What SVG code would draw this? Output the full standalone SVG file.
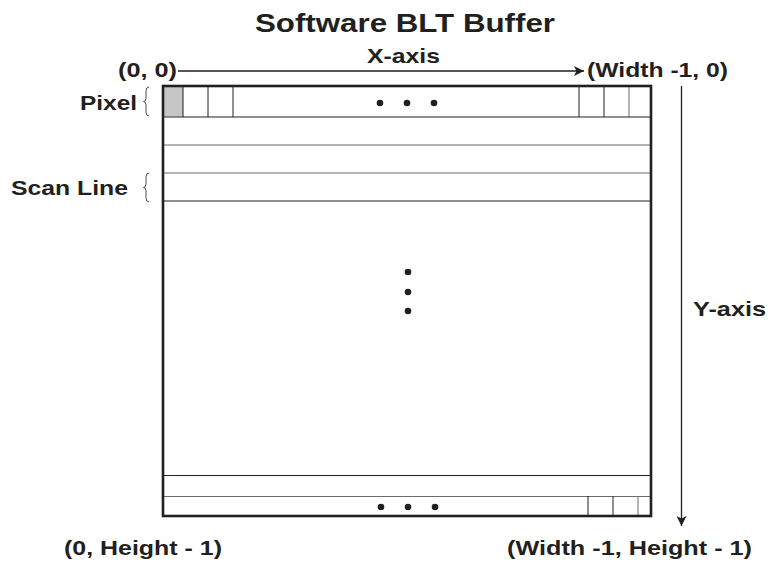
<svg xmlns="http://www.w3.org/2000/svg" width="770" height="565" viewBox="0 0 770 565">
  <style>
    text { font-family: "Liberation Sans", Arial, sans-serif; font-weight: bold; fill: #231f20; }
    .lbl { font-size: 21px; }
    .title { font-size: 26px; }
    .cell { stroke: #231f20; stroke-width: 1; fill: none; }
    .gcell { stroke: #6d6d6d; stroke-width: 1; fill: none; }
    .brace { stroke: #231f20; stroke-width: 0.8; fill: none; }
    .axis { stroke: #231f20; stroke-width: 1.3; fill: none; }
    .dot { fill: #231f20; }
  </style>
  <defs>
    <marker id="ah" viewBox="0 0 10 10" refX="10" refY="5" markerWidth="10" markerHeight="10" markerUnits="userSpaceOnUse" orient="auto">
      <path d="M0,0 L10,5 L0,10 L2.5,5 Z" fill="#231f20"/>
    </marker>
  </defs>

  <g id="title">
    <text class="title" x="255" y="32" textLength="300" lengthAdjust="spacingAndGlyphs">Software BLT Buffer</text>
  </g>

  <g id="buffer">
    <rect x="163" y="86" width="488" height="430" fill="#ffffff" stroke="none"/>
    <rect x="163.5" y="87" width="19.5" height="29.5" fill="#c6c6c6"/>
    <line class="cell" x1="183" y1="86" x2="183" y2="117"/>
    <line class="cell" x1="208" y1="86" x2="208" y2="117"/>
    <line class="cell" x1="233" y1="86" x2="233" y2="117"/>
    <line class="cell" x1="579" y1="86" x2="579" y2="117"/>
    <line class="cell" x1="604" y1="86" x2="604" y2="117"/>
    <line class="gcell" x1="629" y1="86" x2="629" y2="117"/>
    <line class="cell" x1="162" y1="117" x2="651" y2="117"/>
    <line class="gcell" x1="162" y1="145" x2="651" y2="145"/>
    <line class="gcell" x1="162" y1="173" x2="651" y2="173"/>
    <line class="cell" x1="162" y1="201" x2="651" y2="201"/>
    <line class="cell" x1="162" y1="475.5" x2="651" y2="475.5"/>
    <line class="gcell" x1="162" y1="496.5" x2="651" y2="496.5"/>
    <line class="cell" x1="588" y1="496" x2="588" y2="516"/>
    <line class="cell" x1="613" y1="496" x2="613" y2="516"/>
    <line class="gcell" x1="638" y1="496" x2="638" y2="516"/>
    <rect x="163" y="86" width="488" height="430" fill="none" stroke="#231f20" stroke-width="2.6"/>
    <circle class="dot" cx="380" cy="103" r="3.3"/>
    <circle class="dot" cx="407" cy="103" r="3.3"/>
    <circle class="dot" cx="434" cy="103" r="3.3"/>
    <circle class="dot" cx="408" cy="272" r="3.3"/>
    <circle class="dot" cx="408" cy="292" r="3.3"/>
    <circle class="dot" cx="408" cy="311" r="3.3"/>
    <circle class="dot" cx="381" cy="507" r="3.3"/>
    <circle class="dot" cx="408" cy="507" r="3.3"/>
    <circle class="dot" cx="435" cy="507" r="3.3"/>
  </g>

  <g id="pixel-label">
    <text class="lbl" x="80" y="110" textLength="57" lengthAdjust="spacingAndGlyphs">Pixel</text>
    <path class="brace" d="M149,87 Q146,87 146,91 L146,98 Q146,101.5 143.5,101.5 Q146,101.5 146,105 L146,112 Q146,116 149,116"/>
  </g>

  <g id="scanline-label">
    <text class="lbl" x="11" y="195" textLength="117" lengthAdjust="spacingAndGlyphs">Scan Line</text>
    <path class="brace" d="M149,173 Q146,173 146,177 L146,184 Q146,187.5 143.5,187.5 Q146,187.5 146,191 L146,198 Q146,202 149,202"/>
  </g>

  <g id="corner-labels">
    <text class="lbl" x="118" y="77" textLength="59" lengthAdjust="spacingAndGlyphs">(0, 0)</text>
    <text class="lbl" x="587" y="77" textLength="141" lengthAdjust="spacingAndGlyphs">(Width -1, 0)</text>
    <text class="lbl" x="64" y="555" textLength="158" lengthAdjust="spacingAndGlyphs">(0, Height - 1)</text>
    <text class="lbl" x="507" y="555" textLength="245" lengthAdjust="spacingAndGlyphs">(Width -1, Height - 1)</text>
  </g>

  <g id="axis-labels">
    <text class="lbl" x="367" y="63" textLength="73" lengthAdjust="spacingAndGlyphs">X-axis</text>
    <text class="lbl" x="693" y="316" textLength="73" lengthAdjust="spacingAndGlyphs">Y-axis</text>
  </g>

  <g id="connectors">
    <line class="axis" x1="178" y1="71" x2="584" y2="71" marker-end="url(#ah)"/>
    <line class="axis" x1="681.5" y1="86" x2="681.5" y2="526" marker-end="url(#ah)"/>
  </g>
</svg>
